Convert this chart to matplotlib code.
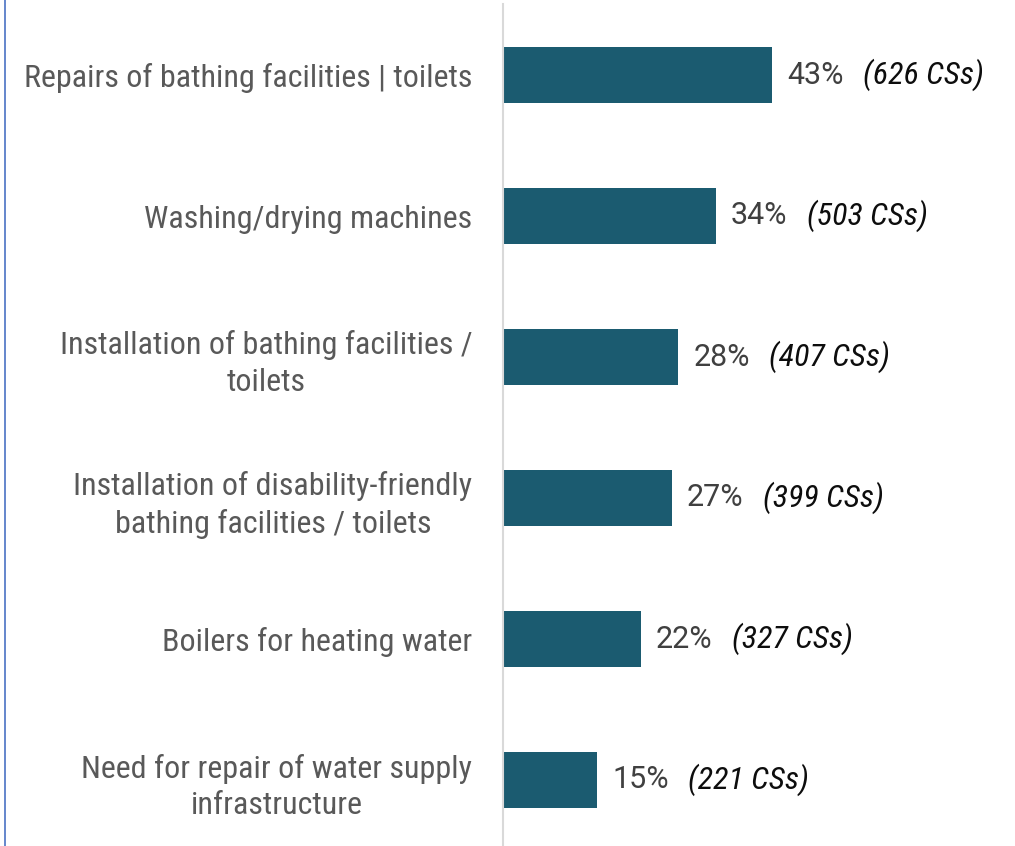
import numpy as np
import matplotlib.pyplot as plt
from matplotlib.lines import Line2D

# Data
categories = [
    "Repairs of bathing facilities | toilets",
    "Washing/drying machines",
    "Installation of bathing facilities /\ntoilets",
    "Installation of disability-friendly\nbathing facilities / toilets",
    "Boilers for heating water",
    "Need for repair of water supply\ninfrastructure",
]
shares = [43, 34, 28, 27, 22, 15]
counts = [626, 503, 407, 399, 327, 221]

FONT = ["Roboto Condensed", "Roboto", "DejaVu Sans"]
BAR_COLOR = "#1b5b70"

fig = plt.figure(figsize=(10.15, 8.46), dpi=100)
W, H = 1015, 846
# axes placed in pixel terms: x=0 at 503px, rows 141px apart
ax = fig.add_axes([503 / W, -4.5 / H, 500 / W, 846 / H])

y = np.arange(len(categories))
ax.barh(y, shares, height=0.4, color=BAR_COLOR)
ax.set_xlim(0, 80)
ax.set_ylim(len(categories) - 0.5, -0.5)

ax.set_yticks(y)
ax.set_yticklabels(categories, fontsize=23, color="#595959", family=FONT,
                   fontstretch="condensed", linespacing=1.33)
for lbl in ax.get_yticklabels():
    lbl.set_multialignment("center")
ax.tick_params(axis="y", length=0, pad=22)
ax.set_xticks([])

for s in ["top", "right", "bottom"]:
    ax.spines[s].set_visible(False)
ax.spines["left"].set_color("#d9d9d9")
ax.spines["left"].set_linewidth(1.5)

# value labels: percent then italic count
fig.canvas.draw()
renderer = fig.canvas.get_renderer()
inv = ax.transData.inverted()
for i, (p, c) in enumerate(zip(shares, counts)):
    t = ax.annotate(f"{p}%", (p, i), xytext=(11, 0), textcoords="offset points",
                    va="center", ha="left", fontsize=22, color="#404040",
                    family=["Roboto", "DejaVu Sans"])
    bb = t.get_window_extent(renderer)
    x_end = inv.transform((bb.x1, 0))[0]
    ax.annotate(f"({c} CSs)", (x_end, i), xytext=(14, 0), textcoords="offset points",
                va="center", ha="left", fontsize=23, color="#0d0d0d",
                family=FONT, fontstretch="condensed", style="italic")

# thin blue frame line on the left edge
fig.add_artist(Line2D([5 / W, 5 / W], [0, 1], transform=fig.transFigure,
                      color="#4a72c4", linewidth=1.2))

fig.savefig("out.png", dpi=100)
